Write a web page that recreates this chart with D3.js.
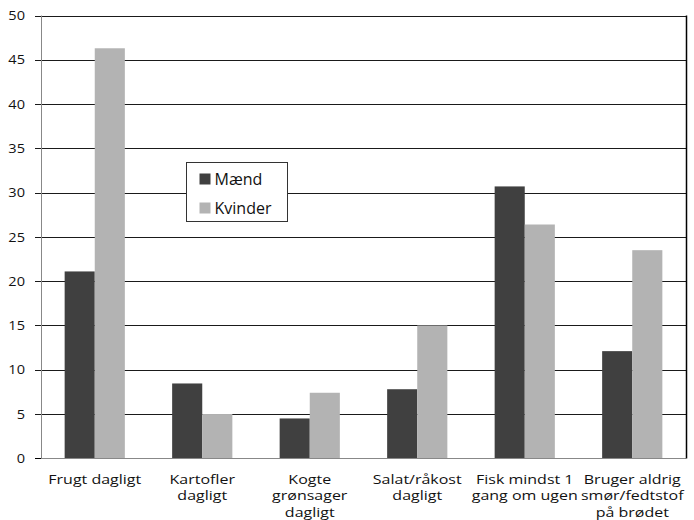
<!DOCTYPE html>
<html>
<head>
<meta charset="utf-8">
<script src="https://cdn.jsdelivr.net/npm/d3@7"></script>
<style>
  body { margin: 0; background: #fff; }
  text { font-family: "Open Sans", sans-serif; fill: #111; }
</style>
</head>
<body>
<div id="chart"></div>
<script>
var categories = [
  ["Frugt dagligt"],
  ["Kartofler", "dagligt"],
  ["Kogte", "grønsager", "dagligt"],
  ["Salat/råkost", "dagligt"],
  ["Fisk mindst 1", "gang om ugen"],
  ["Bruger aldrig", "smør/fedtstof", "på brødet"]
];
var seriesNames = ["Mænd", "Kvinder"];
var maend = [21.1, 8.45, 4.5, 7.8, 30.7, 12.1];
var kvinder = [46.3, 5.0, 7.4, 15.0, 26.4, 23.5];
var yTicks = [0, 5, 10, 15, 20, 25, 30, 35, 40, 45, 50];
var colors = ["#404040", "#b3b3b3"];

var width = 694, height = 520;
var margin = {left: 41, right: 8, top: 15.5, bottom: 62};

var svg = d3.select("#chart").append("svg")
  .attr("width", width).attr("height", height);

var x = d3.scaleBand()
  .domain(d3.range(categories.length))
  .range([margin.left, width - margin.right])
  .paddingInner(0.44).paddingOuter(0.22);

var xs = d3.scaleBand().domain([0, 1]).range([0, x.bandwidth()]);

var y = d3.scaleLinear().domain([0, 50]).range([height - margin.bottom + 0.3, margin.top]);

// gridlines
svg.append("g")
  .selectAll("line").data(yTicks.filter(function(t){ return t > 0; })).enter()
  .append("line")
  .attr("x1", margin.left - 6).attr("x2", width - margin.right)
  .attr("y1", function(d){ return Math.round(y(d)) + 0.5; })
  .attr("y2", function(d){ return Math.round(y(d)) + 0.5; })
  .attr("stroke", "#1a1a1a").attr("stroke-width", 1);

// bars
var data = [maend, kvinder];
var g = svg.append("g");
data.forEach(function(series, si){
  g.selectAll("rect.s" + si).data(series).enter()
    .append("rect")
    .attr("class", "s" + si)
    .attr("x", function(d, i){ return x(i) + xs(si); })
    .attr("width", xs.bandwidth())
    .attr("y", function(d){ return y(d); })
    .attr("height", function(d){ return y(0) - y(d); })
    .attr("fill", colors[si]);
});

// axes
var y0 = Math.round(y(0)) + 0.5;
svg.append("line")
  .attr("x1", margin.left + 0.5).attr("x2", margin.left + 0.5)
  .attr("y1", margin.top).attr("y2", y0)
  .attr("stroke", "#888");
svg.append("line")
  .attr("x1", margin.left - 6).attr("x2", width - margin.right)
  .attr("y1", y0).attr("y2", y0)
  .attr("stroke", "#888");
svg.append("line")
  .attr("x1", margin.left - 6).attr("x2", margin.left)
  .attr("y1", y0).attr("y2", y0)
  .attr("stroke", "#000");
svg.append("line")
  .attr("x1", width - margin.right + 0.5).attr("x2", width - margin.right + 0.5)
  .attr("y1", margin.top).attr("y2", y0)
  .attr("stroke", "#000").attr("stroke-width", 1.5);

// y tick labels
svg.append("g").selectAll("text").data(yTicks).enter()
  .append("text")
  .attr("text-anchor", "end")
  .attr("transform", function(d){ return "translate(25," + y(d) + ") scale(1.12,1)"; })
  .attr("dy", "0.36em")
  .style("font-size", "13px")
  .text(function(d){ return d; });

// x labels (the source image is stretched horizontally)
var xl = svg.append("g").selectAll("text").data(categories).enter()
  .append("text")
  .attr("text-anchor", "middle")
  .style("font-size", "12.5px")
  .attr("transform", function(d, i){ return "translate(" + (x(i) + x.bandwidth() / 2) + ",484) scale(1.28,1)"; });
xl.selectAll("tspan").data(function(d){ return d; }).enter()
  .append("tspan")
  .attr("x", 0)
  .attr("dy", function(d, i){ return i === 0 ? 0 : 16.5; })
  .text(function(d){ return d; });

// legend
var lg = svg.append("g").attr("transform", "translate(186.5,162.5)");
lg.append("rect").attr("width", 101).attr("height", 59)
  .attr("fill", "#fff").attr("stroke", "#333");
seriesNames.forEach(function(name, i){
  lg.append("rect").attr("x", 13).attr("y", 11 + i * 29).attr("width", 11).attr("height", 11)
    .attr("fill", colors[i]);
  lg.append("text").attr("x", 28).attr("y", 17 + i * 29).attr("dy", "0.36em")
    .style("font-size", "16px").text(name);
});
</script>
</body>
</html>
